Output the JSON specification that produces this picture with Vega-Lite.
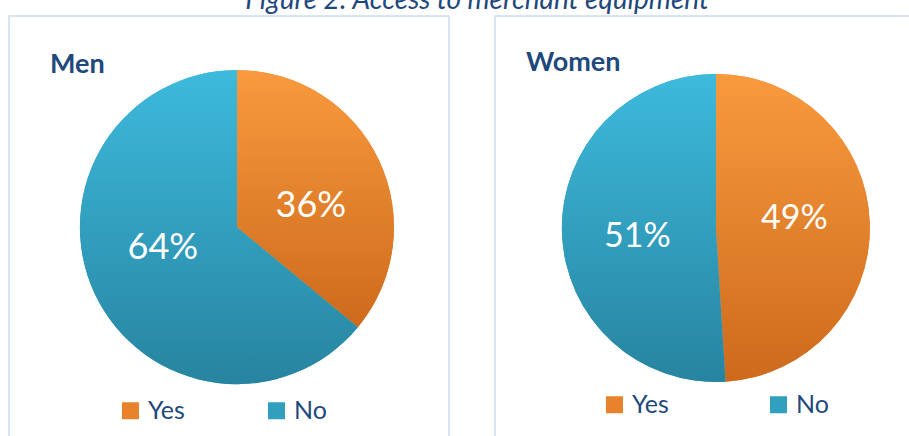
{
  "$schema": "https://vega.github.io/schema/vega-lite/v6.json",
  "background": "white",
  "padding": {"left": 8, "top": -13, "right": 0, "bottom": 0},
  "title": {"text": "Figure 2: Access to merchant equipment", "font": "Lato", "fontSize": 28, "fontStyle": "italic", "fontWeight": "normal", "color": "#1F497D", "anchor": "middle", "baseline": "alphabetic", "offset": -22, "dx": 5},
  "datasets": {
    "pie": [
      {"gender": "Men", "answer": "Yes", "share": 0.36, "o": 1},
      {"gender": "Men", "answer": "No", "share": 0.64, "o": 2},
      {"gender": "Women", "answer": "Yes", "share": 0.49, "o": 1},
      {"gender": "Women", "answer": "No", "share": 0.51, "o": 2}
    ]
  },
  "spacing": 46,
  "bounds": "flush",
  "config": {
    "view": {"stroke": "#CCDDF1", "strokeWidth": 1.5},
    "legend": {"orient": "none", "direction": "horizontal", "title": null, "symbolType": "square", "symbolSize": 289, "symbolStrokeWidth": 0, "symbolOpacity": 1, "labelFont": "Lato", "labelFontSize": 25, "labelColor": "#1F497D", "labelOffset": 5, "padding": 0}
  },
  "resolve": {"scale": {"color": "independent", "theta": "independent"}},
  "hconcat": [
    {
      "width": 440,
      "height": 430,
      "title": {"text": "Men", "anchor": "start", "frame": "group", "baseline": "alphabetic", "offset": 0, "dx": 41, "dy": 84, "font": "Lato", "fontSize": 27, "fontWeight": "bold", "color": "#1F497D"},
      "data": {"name": "pie"},
      "transform": [
        {"filter": "datum.gender === 'Men'"},
        {"stack": "share", "groupby": ["gender"], "sort": [{"field": "o", "order": "ascending"}], "as": ["s0", "s1"]}
      ],
      "encoding": {
        "x": {"field": "gender", "type": "nominal", "axis": null, "scale": {"type": "point", "align": 0.518}},
        "y": {"field": "gender", "type": "nominal", "axis": null, "scale": {"type": "point", "align": 0.491}}
      },
      "resolve": {"scale": {"theta": "independent"}},
      "layer": [
        {
          "mark": {"type": "arc", "radius": 157},
          "encoding": {
            "theta": {"field": "s0", "type": "quantitative", "scale": {"domain": [0, 1]}},
            "theta2": {"field": "s1"},
            "color": {
              "field": "answer", "type": "nominal",
              "scale": {"domain": ["Yes", "No"], "range": ["#E8822C", "#31A0BF"]},
              "legend": {"legendX": 109, "legendY": 382, "columnPadding": 79}
            }
          }
        },
        {
          "transform": [{"filter": "datum.answer === 'Yes'"}],
          "mark": {"type": "arc", "radius": 157, "color": {"gradient": "linear", "x1": 0, "y1": 0, "x2": 0, "y2": 1, "stops": [{"offset": 0, "color": "#F99A3E"}, {"offset": 1, "color": "#CD6A1C"}]}},
          "encoding": {
            "theta": {"field": "s0", "type": "quantitative", "scale": {"domain": [0, 1]}},
            "theta2": {"field": "s1"}
          }
        },
        {
          "transform": [{"filter": "datum.answer === 'No'"}],
          "mark": {"type": "arc", "radius": 157, "color": {"gradient": "linear", "x1": 0, "y1": 0, "x2": 0, "y2": 1, "stops": [{"offset": 0, "color": "#3DBADC"}, {"offset": 1, "color": "#2784A0"}]}},
          "encoding": {
            "theta": {"field": "s0", "type": "quantitative", "scale": {"domain": [0, 1]}},
            "theta2": {"field": "s1"}
          }
        },
        {
          "mark": {"type": "text", "radius": 77, "font": "Lato", "fontSize": 36, "color": "white"},
          "encoding": {
            "theta": {"field": "share", "type": "quantitative", "stack": true, "scale": {"domain": [0, 1], "range": [0.16, 6.443]}},
            "order": {"field": "o", "type": "quantitative"},
            "text": {"field": "share", "type": "quantitative", "format": ".0%"}
          }
        }
      ]
    },
    {
      "width": 440,
      "height": 430,
      "title": {"text": "Women", "anchor": "start", "frame": "group", "baseline": "alphabetic", "offset": 0, "dx": 31, "dy": 82, "font": "Lato", "fontSize": 27, "fontWeight": "bold", "color": "#1F497D"},
      "data": {"name": "pie"},
      "transform": [
        {"filter": "datum.gender === 'Women'"},
        {"stack": "share", "groupby": ["gender"], "sort": [{"field": "o", "order": "ascending"}], "as": ["s0", "s1"]}
      ],
      "encoding": {
        "x": {"field": "gender", "type": "nominal", "axis": null, "scale": {"type": "point", "align": 0.502}},
        "y": {"field": "gender", "type": "nominal", "axis": null, "scale": {"type": "point", "align": 0.493}}
      },
      "resolve": {"scale": {"theta": "independent"}},
      "layer": [
        {
          "mark": {"type": "arc", "radius": 154},
          "encoding": {
            "theta": {"field": "s0", "type": "quantitative", "scale": {"domain": [0, 1]}},
            "theta2": {"field": "s1"},
            "color": {
              "field": "answer", "type": "nominal",
              "scale": {"domain": ["Yes", "No"], "range": ["#E8822C", "#31A0BF"]},
              "legend": {"legendX": 107, "legendY": 376, "columnPadding": 97}
            }
          }
        },
        {
          "transform": [{"filter": "datum.answer === 'Yes'"}],
          "mark": {"type": "arc", "radius": 154, "color": {"gradient": "linear", "x1": 0, "y1": 0, "x2": 0, "y2": 1, "stops": [{"offset": 0, "color": "#F99A3E"}, {"offset": 1, "color": "#CD6A1C"}]}},
          "encoding": {
            "theta": {"field": "s0", "type": "quantitative", "scale": {"domain": [0, 1]}},
            "theta2": {"field": "s1"}
          }
        },
        {
          "transform": [{"filter": "datum.answer === 'No'"}],
          "mark": {"type": "arc", "radius": 154, "color": {"gradient": "linear", "x1": 0, "y1": 0, "x2": 0, "y2": 1, "stops": [{"offset": 0, "color": "#3DBADC"}, {"offset": 1, "color": "#2784A0"}]}},
          "encoding": {
            "theta": {"field": "s0", "type": "quantitative", "scale": {"domain": [0, 1]}},
            "theta2": {"field": "s1"}
          }
        },
        {
          "mark": {"type": "text", "radius": 79, "font": "Lato", "fontSize": 34, "color": "white"},
          "encoding": {
            "theta": {"field": "share", "type": "quantitative", "stack": true, "scale": {"domain": [0, 1], "range": [-0.08, 6.203]}},
            "order": {"field": "o", "type": "quantitative"},
            "text": {"field": "share", "type": "quantitative", "format": ".0%"}
          }
        }
      ]
    }
  ]
}
